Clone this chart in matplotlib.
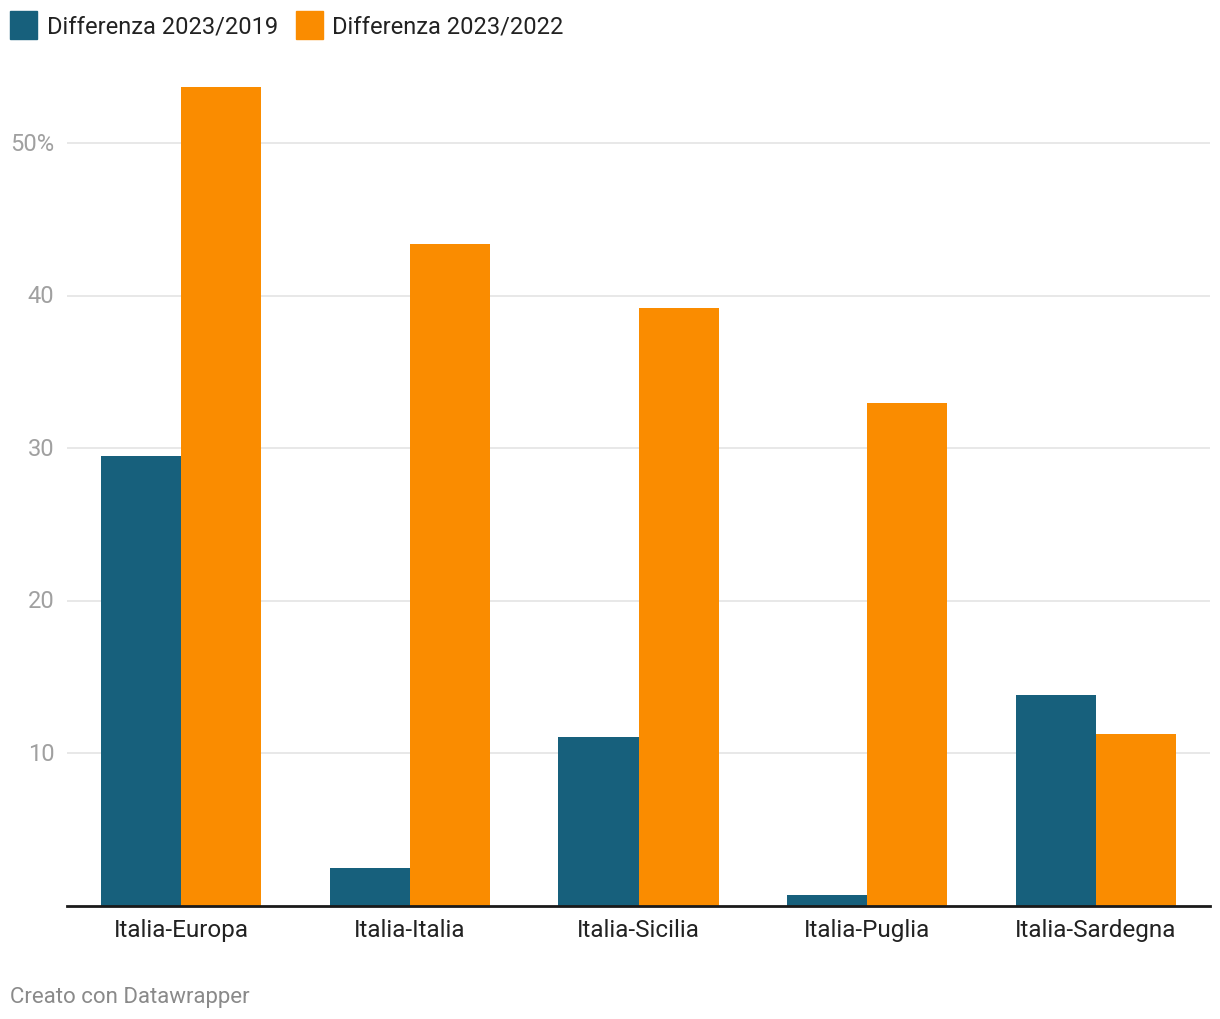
import numpy as np
import matplotlib
matplotlib.use('Agg')
import matplotlib.pyplot as plt
from matplotlib.patches import Rectangle

# data
routes = ['Italia-Europa', 'Italia-Italia', 'Italia-Sicilia', 'Italia-Puglia', 'Italia-Sardegna']
diff_2019 = [29.5, 2.5, 11.1, 0.7, 13.8]
diff_2022 = [53.7, 43.4, 39.2, 33.0, 11.3]
series_names = ['Differenza 2023/2019', 'Differenza 2023/2022']
yticks = [10, 20, 30, 40, 50]
ytick_labels = ['10', '20', '30', '40', '50%']

blue = '#17607c'
orange = '#fa8c00'

plt.rcParams['font.family'] = ['Roboto', 'DejaVu Sans']

fig = plt.figure(figsize=(12.2, 10.2), dpi=100)
ax = fig.add_axes([67 / 1220, 113 / 1020, (1210 - 67) / 1220, 839 / 1020])

index = np.arange(len(routes))
bar_width = 0.35
ax.bar(index - bar_width / 2, diff_2019, bar_width, color=blue, zorder=3)
ax.bar(index + bar_width / 2, diff_2022, bar_width, color=orange, zorder=3)

ax.set_xlim(-0.5, 4.5)
ax.set_ylim(0, 55)
ax.set_yticks(yticks)
ax.set_yticklabels(ytick_labels)
ax.set_xticks(index)
ax.set_xticklabels(routes)
ax.grid(axis='y', color='#e4e4e4', linewidth=1.2, zorder=0)
ax.tick_params(axis='y', length=0, pad=9, labelsize=17, labelcolor='#a0a0a0')
ax.tick_params(axis='x', length=0, pad=9, labelsize=17.5, labelcolor='#222222')
for lab in ax.get_yticklabels():
    lab.set_verticalalignment('center')
for s in ['top', 'right', 'left']:
    ax.spines[s].set_visible(False)
ax.spines['bottom'].set_color('#1a1a1a')
ax.spines['bottom'].set_linewidth(2)
ax.spines['bottom'].set_zorder(4)

# legend on top
fig.patches.append(Rectangle((10 / 1220, 1 - 40 / 1020), 27 / 1220, 28 / 1020,
                             transform=fig.transFigure, color=blue, figure=fig))
fig.text(47 / 1220, 1 - 27 / 1020, series_names[0], fontsize=17, color='#222222', va='center')
fig.patches.append(Rectangle((296 / 1220, 1 - 40 / 1020), 27 / 1220, 28 / 1020,
                             transform=fig.transFigure, color=orange, figure=fig))
fig.text(332 / 1220, 1 - 27 / 1020, series_names[1], fontsize=17, color='#222222', va='center')

fig.text(10 / 1220, 1 - 998 / 1020, 'Creato con Datawrapper', fontsize=16, color='#8a8a8a', va='center')

fig.savefig('out.png', dpi=100, facecolor='white')
